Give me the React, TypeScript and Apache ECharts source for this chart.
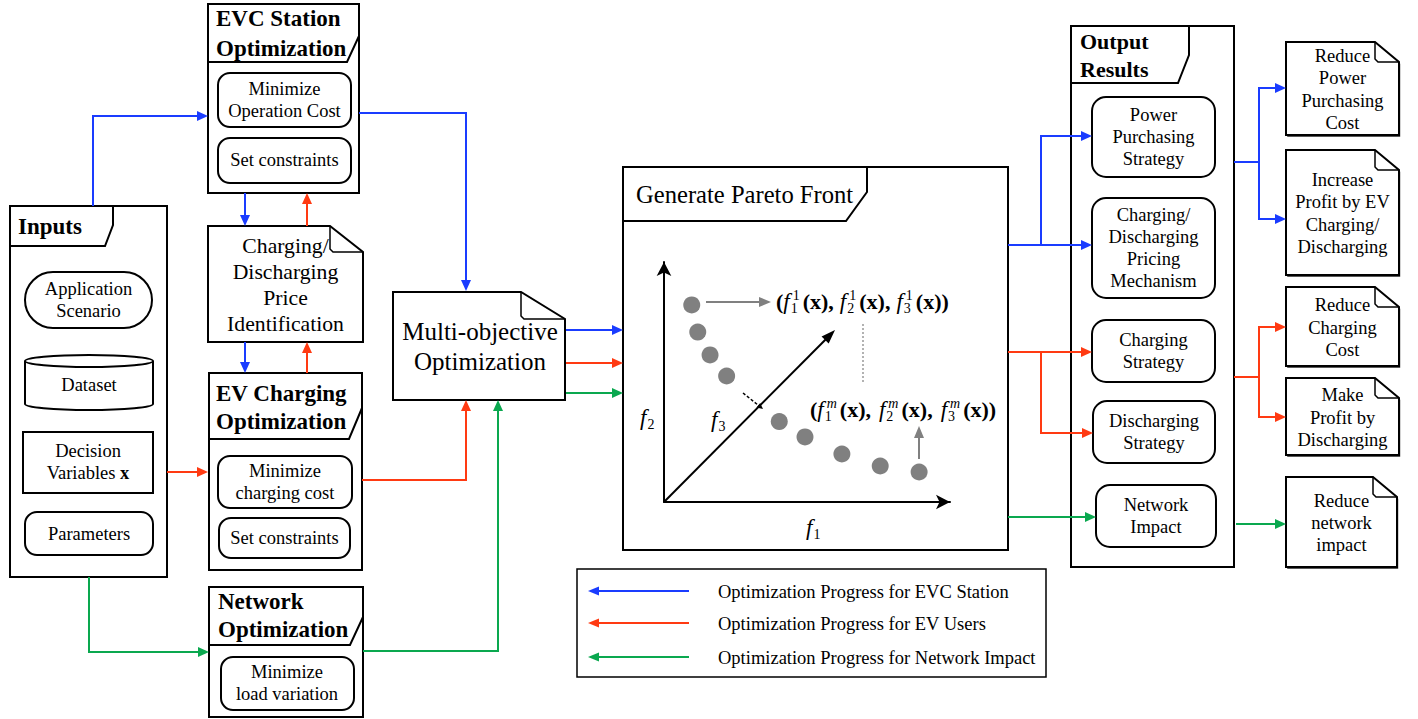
import React, { useEffect, useRef } from 'react';
import * as echarts from 'echarts';

const FONT = '"Liberation Serif", "Times New Roman", Times, serif';
const BLUE = '#1a3cff';
const RED = '#ff3a12';
const GREEN = '#0aa84f';
const GRAY = '#808080';
const FS = 18.5;

// Pareto front points (f1, f2) in relative axis units
const paretoF1 = [9.7, 11.8, 16.1, 21.9, 40.3, 49.3, 62.2, 75.6, 89.2];
const paretoF2 = [82.1, 70.8, 61.3, 52.5, 33.5, 27.1, 20.0, 15.0, 12.5];

const inputItems = ['Application\nScenario', 'Dataset', 'Decision\nVariables {b|x}', 'Parameters'];
const outputItems = [
  'Power\nPurchasing\nStrategy',
  'Charging/\nDischarging\nPricing\nMechanism',
  'Charging\nStrategy',
  'Discharging\nStrategy',
  'Network\nImpact',
];
const goalItems = [
  'Reduce\nPower\nPurchasing\nCost',
  'Increase\nProfit by EV\nCharging/\nDischarging',
  'Reduce\nCharging\nCost',
  'Make\nProfit by\nDischarging',
  'Reduce\nnetwork\nimpact',
];
const legendItems = [
  'Optimization Progress for EVC Station',
  'Optimization Progress for EV Users',
  'Optimization Progress for Network Impact',
];
const legendColors = [BLUE, RED, GREEN];

let mctx: CanvasRenderingContext2D | null = null;
function tw(t: string, size: number, weight = 'normal', style = 'normal') {
  if (!mctx) mctx = document.createElement('canvas').getContext('2d');
  if (!mctx) return t.length * size * 0.5;
  mctx.font = `${style} ${weight} ${size}px ${FONT}`;
  return mctx.measureText(t).width;
}

function buildGraphic() {
  const g: any[] = [];
  const txt = (x: number, y: number, text: string, o: any = {}) => {
    const size = o.size ?? FS;
    const style: any = {
      text,
      fontFamily: FONT,
      fontSize: size,
      fontWeight: o.bold ? 'bold' : 'normal',
      fontStyle: o.italic ? 'italic' : 'normal',
      align: o.align ?? 'center',
      textAlign: o.align ?? 'center',
      verticalAlign: 'middle',
      textVerticalAlign: 'middle',
      lineHeight: o.lh ?? Math.round(size * 1.22),
      fill: o.color ?? '#000',
    };
    if (o.rich) style.rich = o.rich;
    g.push({ type: 'text', x, y, z: 6, style });
  };
  const box = (x: number, y: number, w: number, h: number, o: any = {}) => {
    const r = o.r ?? 0;
    if (o.shadow) {
      g.push({ type: 'rect', z: 1, shape: { x: x + 1.5, y: y + 2.5, width: w, height: h, r }, style: { fill: '#111' } });
    }
    g.push({
      type: 'rect', z: 2,
      shape: { x, y, width: w, height: h, r },
      style: { fill: o.fill ?? '#fff', stroke: '#000', lineWidth: o.lw ?? 2 },
    });
  };
  const line = (pts: number[][], color: string, lw = 2, dash?: number[]) => {
    const style: any = { stroke: color, lineWidth: lw, fill: 'none' };
    if (dash) style.lineDash = dash;
    g.push({ type: 'polyline', z: 3, shape: { points: pts }, style });
  };
  const head = (x1: number, y1: number, x2: number, y2: number, color: string, len = 11, w = 10) => {
    const dx = x2 - x1, dy = y2 - y1, L = Math.hypot(dx, dy) || 1;
    const ux = dx / L, uy = dy / L;
    const bx = x2 - ux * len, by = y2 - uy * len;
    g.push({
      type: 'polygon', z: 4,
      shape: { points: [[x2, y2], [bx - uy * w / 2, by + ux * w / 2], [bx + uy * w / 2, by - ux * w / 2]] },
      style: { fill: color },
    });
  };
  const arrow = (pts: number[][], color: string, o: any = {}) => {
    const n = pts.length;
    const len = o.len ?? 11;
    const [x1, y1] = pts[n - 2];
    const [x2, y2] = pts[n - 1];
    const L = Math.hypot(x2 - x1, y2 - y1) || 1;
    const trimmed = pts.slice(0, n - 1).concat([[x2 - (x2 - x1) / L * len * 0.6, y2 - (y2 - y1) / L * len * 0.6]]);
    line(trimmed, color, o.lw ?? 2, o.dash);
    head(x1, y1, x2, y2, color, len, o.w ?? 10);
  };
  const tab = (pts: number[][]) => line(pts, '#000', 2);
  const doc = (x: number, y: number, w: number, h: number, fw: number, fh: number, shadow = false) => {
    const pts = [[x, y], [x + w - fw, y], [x + w, y + fh], [x + w, y + h], [x, y + h]];
    if (shadow) {
      g.push({ type: 'polygon', z: 1, shape: { points: pts.map(p => [p[0] + 1.2, p[1] + 1.8]) }, style: { fill: '#222' } });
    }
    g.push({ type: 'polygon', z: 2, shape: { points: pts }, style: { fill: '#fff', stroke: '#000', lineWidth: 2 } });
    g.push({
      type: 'polyline', z: 3,
      shape: { points: [[x + w - fw, y], [x + w - fw, y + fh - 3], [x + w - fw + 3, y + fh], [x + w, y + fh]] },
      style: { stroke: '#000', lineWidth: 1.5, fill: 'none' },
    });
  };
  const cyl = (x: number, y: number, w: number, h: number, ry: number) => {
    g.push({ type: 'ellipse', z: 1, shape: { cx: x + w / 2 + 1, cy: y + h - ry + 2.5, rx: w / 2, ry }, style: { fill: '#111' } });
    g.push({ type: 'ellipse', z: 2, shape: { cx: x + w / 2, cy: y + h - ry, rx: w / 2, ry }, style: { fill: '#fff', stroke: '#000', lineWidth: 2 } });
    g.push({ type: 'rect', z: 2, shape: { x, y: y + ry, width: w, height: h - 2 * ry }, style: { fill: '#fff' } });
    line([[x, y + ry], [x, y + h - ry]], '#000');
    line([[x + w, y + ry], [x + w, y + h - ry]], '#000');
    g.push({ type: 'ellipse', z: 3, shape: { cx: x + w / 2, cy: y + ry, rx: w / 2, ry }, style: { fill: '#fff', stroke: '#000', lineWidth: 2 } });
  };
  // formula with italic f, subscripts, superscripts
  const formula = (x0: number, y: number, items: any[], size = 22) => {
    let x = x0;
    const ss = Math.round(size * 0.64);
    for (const it of items) {
      if (it[0] === 'f') {
        txt(x, y, 'f', { size: size + 1, italic: true, align: 'left' });
        x += tw('f', size + 1, 'normal', 'italic') + 1;
        let adv = 0;
        if (it[1]) {
          txt(x, y + 7, it[1], { size: ss, align: 'left' });
          adv = Math.max(adv, tw(it[1], ss));
        }
        if (it[2]) {
          const ital = it[2] === 'm';
          txt(x + 2, y - 6, it[2], { size: ss, align: 'left', italic: ital });
          adv = Math.max(adv, tw(it[2], ss, 'normal', ital ? 'italic' : 'normal') + 3);
        }
        x += adv + 2;
      } else if (it[0] === 'gap') {
        x += it[1];
      } else {
        txt(x, y, it[1], { size, bold: true, align: 'left' });
        x += tw(it[1], size, 'bold');
      }
    }
  };

  // ---------- Inputs ----------
  box(10, 206, 157, 371);
  tab([[113, 206], [113, 225], [105, 246], [10, 246]]);
  txt(18, 226, 'Inputs', { size: 23, bold: true, align: 'left' });
  box(25, 272, 127, 56, { r: 28, shadow: true });
  txt(88.5, 300, inputItems[0], { lh: 22 });
  cyl(25, 355, 128, 55, 6);
  txt(89, 385, inputItems[1]);
  box(23, 432, 130, 61, { shadow: true });
  txt(88, 462, inputItems[2], { lh: 22, rich: { b: { fontWeight: 'bold', fontFamily: FONT, fontSize: FS } } });
  box(25, 512, 128, 43, { r: 12, shadow: true });
  txt(89, 534, inputItems[3]);

  // ---------- EVC Station Optimization ----------
  box(208, 4, 151, 189);
  tab([[359, 36], [347, 62], [208, 62]]);
  txt(216, 33, 'EVC Station\nOptimization', { size: 23, bold: true, align: 'left', lh: 30 });
  box(218, 73, 133, 54, { r: 12, shadow: true });
  txt(284.5, 100, 'Minimize\nOperation Cost', { lh: 22 });
  box(218, 138, 133, 45, { r: 12, shadow: true });
  txt(284.5, 160, 'Set constraints');

  // ---------- Price identification ----------
  doc(208, 226, 155, 116, 33, 26);
  txt(285.5, 285, 'Charging/\nDischarging\nPrice\nIdentification', { size: 21.7, lh: 26 });

  // ---------- EV Charging Optimization ----------
  box(209, 373, 153, 197);
  tab([[362, 408], [349, 439], [209, 439]]);
  txt(216, 407, 'EV Charging\nOptimization', { size: 23, bold: true, align: 'left', lh: 28 });
  box(218, 456, 134, 52, { r: 12, shadow: true });
  txt(285, 482, 'Minimize\ncharging cost', { lh: 22 });
  box(219, 518, 131, 40, { r: 12, shadow: true });
  txt(284.5, 538, 'Set constraints');

  // ---------- Network Optimization ----------
  box(209, 587, 154, 130);
  tab([[363, 617], [350, 645], [209, 645]]);
  txt(218, 615, 'Network\nOptimization', { size: 23, bold: true, align: 'left', lh: 28 });
  box(221, 657, 133, 53, { r: 12, shadow: true });
  txt(287, 683, 'Minimize\nload variation', { lh: 22 });

  // ---------- Multi-objective ----------
  doc(393, 292, 172, 108, 44, 27);
  txt(480, 346, 'Multi-objective\nOptimization', { size: 25, lh: 30 });

  // ---------- Pareto box ----------
  box(623, 167, 385, 383, { fill: 'none' });
  tab([[867, 167], [867, 192], [846, 221], [623, 221]]);
  txt(636, 194, 'Generate Pareto Front', { size: 24.6, align: 'left' });
  arrow([[706, 302], [771, 302]], GRAY, { len: 12, w: 10 });
  line([[863, 324], [863, 382]], '#999', 1.5, [2, 2]);
  arrow([[919, 459], [919, 426]], GRAY, { len: 12, w: 10 });
  arrow([[664, 502], [835, 330]], '#000', { len: 14, w: 10 });
  arrow([[743, 393], [763, 409]], '#000', { len: 6, w: 6, lw: 1.5, dash: [3, 2] });
  formula(776, 301, [
    ['b', '('], ['f', '1', '1'], ['b', '(x),'], ['gap', 6],
    ['f', '2', '1'], ['b', '(x),'], ['gap', 6],
    ['f', '3', '1'], ['b', '(x))'],
  ]);
  formula(810, 409, [
    ['b', '('], ['f', '1', 'm'], ['b', '(x),'], ['gap', 8],
    ['f', '2', 'm'], ['b', '(x),'], ['gap', 8],
    ['f', '3', 'm'], ['b', '(x))'],
  ]);
  formula(640, 417, [['f', '2', null]]);
  formula(711, 419, [['f', '3', null]]);
  formula(806, 527, [['f', '1', null]]);

  // ---------- Output results ----------
  box(1071, 26, 163, 541);
  tab([[1189, 26], [1189, 55], [1178, 83], [1071, 83]]);
  txt(1080, 55, 'Output\nResults', { size: 22, bold: true, align: 'left', lh: 28 });
  const outBoxes = [
    [1092, 97, 123, 80],
    [1092, 198, 123, 100],
    [1092, 320, 123, 62],
    [1093, 401, 122, 62],
    [1096, 485, 120, 62],
  ];
  outBoxes.forEach((b, i) => {
    box(b[0], b[1], b[2], b[3], { r: 14, shadow: true });
    txt(b[0] + b[2] / 2, b[1] + b[3] / 2, outputItems[i], { lh: 22.3 });
  });

  // ---------- Goals ----------
  const goalDocs = [
    [1286, 42, 113, 93],
    [1286, 150, 113, 125],
    [1286, 287, 113, 79],
    [1286, 378, 113, 77],
    [1286, 477, 111, 90],
  ];
  goalDocs.forEach((b, i) => {
    doc(b[0], b[1], b[2], b[3], 24, 20, true);
    txt(b[0] + b[2] / 2, b[1] + b[3] / 2 + 1, goalItems[i], { lh: 22.3 });
  });

  // ---------- Connectors ----------
  arrow([[93, 206], [93, 116], [208, 116]], BLUE);
  arrow([[359, 113], [466, 113], [466, 291]], BLUE);
  arrow([[245, 193], [245, 226]], BLUE);
  arrow([[307, 226], [307, 193]], RED);
  arrow([[245, 342], [245, 373]], BLUE);
  arrow([[307, 373], [307, 342]], RED);
  arrow([[167, 472], [208, 472]], RED);
  arrow([[362, 480], [466, 480], [466, 400]], RED);
  arrow([[89, 577], [89, 652], [209, 652]], GREEN);
  arrow([[363, 651], [498, 651], [498, 400]], GREEN);
  arrow([[566, 330], [623, 330]], BLUE);
  arrow([[566, 363], [623, 363]], RED);
  arrow([[566, 393], [623, 393]], GREEN);

  line([[1008, 245], [1041, 245]], BLUE);
  arrow([[1041, 245], [1041, 136], [1092, 136]], BLUE);
  arrow([[1041, 245], [1092, 245]], BLUE);
  line([[1008, 352], [1041, 352]], RED);
  arrow([[1041, 352], [1092, 352]], RED);
  arrow([[1041, 352], [1041, 433], [1093, 433]], RED);
  arrow([[1008, 517], [1096, 517]], GREEN);

  line([[1234, 162], [1259, 162]], BLUE);
  arrow([[1259, 162], [1259, 88], [1286, 88]], BLUE);
  arrow([[1259, 162], [1259, 219], [1286, 219]], BLUE);
  line([[1234, 377], [1259, 377]], RED);
  arrow([[1259, 377], [1259, 327], [1286, 327]], RED);
  arrow([[1259, 377], [1259, 417], [1286, 417]], RED);
  arrow([[1236, 524], [1286, 524]], GREEN);

  // ---------- Legend ----------
  box(577, 569, 469, 108, { lw: 1.5 });
  const ly = [591, 623, 657];
  legendItems.forEach((t, i) => {
    arrow([[689, ly[i]], [588, ly[i]]], legendColors[i], { len: 11, w: 9 });
    txt(718, ly[i] + 1, t, { align: 'left' });
  });

  return g;
}

export default function App() {
  const ref = useRef<HTMLDivElement>(null);
  useEffect(() => {
    if (!ref.current) return;
    const chart = echarts.init(ref.current, undefined, { renderer: 'svg' });
    const axisCommon = {
      type: 'value',
      min: 0,
      max: 100,
      axisLine: {
        show: true,
        onZero: false,
        symbol: ['none', 'arrow'],
        symbolSize: [11, 14],
        lineStyle: { color: '#000', width: 2 },
      },
      axisTick: { show: false },
      axisLabel: { show: false },
      splitLine: { show: false },
    };
    chart.setOption({
      animation: false,
      backgroundColor: '#fff',
      grid: { left: 664, top: 262, width: 286, height: 240 },
      xAxis: axisCommon,
      yAxis: axisCommon,
      series: [
        {
          type: 'scatter',
          data: paretoF1.map((v, i) => [v, paretoF2[i]]),
          symbolSize: 17,
          itemStyle: { color: GRAY, opacity: 1 },
          z: 5,
          silent: true,
        },
      ],
      graphic: { elements: buildGraphic() },
    });
    return () => chart.dispose();
  }, []);
  return (
    <div
      ref={ref}
      style={{ position: 'fixed', left: 0, top: 0, width: 1418, height: 719, background: '#fff' }}
    />
  );
}
